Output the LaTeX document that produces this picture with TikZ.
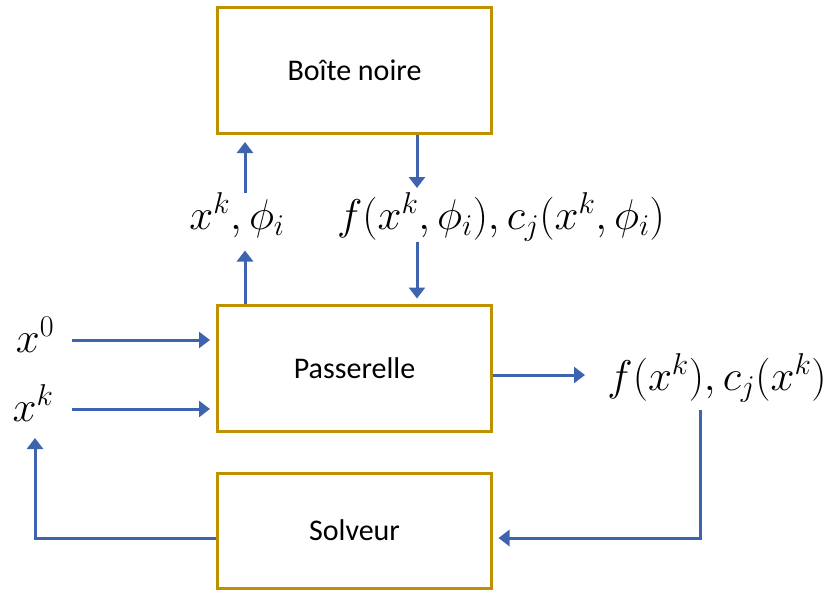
\RequirePackage{fix-cm}
\documentclass[tikz,border=0pt]{standalone}
\usepackage{fontspec}
\newfontfamily\carl{Carlito}
\usetikzlibrary{arrows.meta,calc}
\definecolor{gold}{RGB}{191,144,0}
\definecolor{arrblue}{RGB}{63,100,175}
\begin{document}
\begin{tikzpicture}[x=1pt,y=-1pt,
  box/.style={draw=gold,line width=3pt,minimum width=274pt,inner sep=0pt,
    font=\carl\fontsize{30}{36}\selectfont},
  lab/.style={inner sep=0pt,anchor=base,font=\fontsize{43}{52}\selectfont},
  arr/.style={draw=arrblue,line width=3pt,-{Triangle[width=16pt,length=11pt]}}]
\useasboundingbox (0,0) rectangle (827,589);
\node[box,minimum height=126pt] (bn) at (354.5,70.5) {Boîte noire};
\node[box,minimum height=126.5pt] (pa) at (354.5,368.25) {Passerelle};
\node[box,minimum height=115pt] (so) at (354.5,530.5) {Solveur};

\node[lab] (l1) at (237,229) {$x^k,\phi_i$};
\node[lab] (l2) at (501,229) {$f(x^k,\phi_i),c_j(x^k,\phi_i)$};
\node[lab] (l3) at (717,390) {$f(x^k),c_j(x^k)$};
\node[lab] (x0) at (35,352) {$x^0$};
\node[lab] (xk) at (33,421) {$x^k$};

\coordinate (cA) at (245,0);
\coordinate (cB) at (417,0);
\coordinate (s0) at (72,340);
\coordinate (sk) at (72,409);
\coordinate (r1) at (585,375);
\coordinate (d1) at (700,410);
\coordinate (yb) at (0,538);
\coordinate (u1) at (35,438);

\draw[arr] (pa.north -| cA) -- ++(0,-53);
\draw[arr] ($(bn.south -| cA)+(0,58)$) -- ($(bn.south -| cA)+(0,7)$);
\draw[arr] (bn.south -| cB) -- ++(0,53);
\draw[arr] ($(pa.north -| cB)+(0,-62)$) -- ($(pa.north -| cB)+(0,-5)$);
\draw[arr,shorten >=6pt] (s0) -- (s0 -| pa.west);
\draw[arr,shorten >=6pt] (sk) -- (sk -| pa.west);
\draw[arr] (r1 -| pa.east) -- (r1);
\draw[arr,shorten >=5.5pt] (d1) |- (so.east |- yb);
\draw[arr] (so.west |- yb) -| (u1);
\end{tikzpicture}
\end{document}
